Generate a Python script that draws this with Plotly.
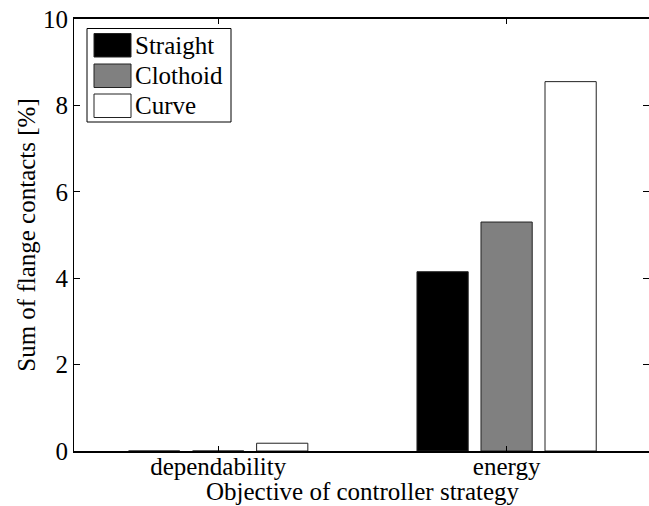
import plotly.graph_objects as go

# ---- data ----
categories = ["dependability", "energy"]
series_names = ["Straight", "Clothoid", "Curve"]
straight = [0.0, 4.15]
clothoid = [0.0, 5.30]
curve = [0.18, 8.55]
series_values = [straight, clothoid, curve]
series_colors = ["#000000", "#808080", "#ffffff"]
y_ticks = [0, 2, 4, 6, 8, 10]
x_title = "Objective of controller strategy"
y_title = "Sum of flange contacts [%]"

W, H = 649, 506
ML, MR, MT, MB = 74, 0, 19, 55
PW, PH = W - ML - MR, H - MT - MB
FONT = dict(family="Liberation Serif", size=25, color="black")

fig = go.Figure()
for name, vals, col in zip(series_names, series_values, series_colors):
    fig.add_trace(go.Bar(
        x=categories, y=vals, name=name,
        marker=dict(color=col, line=dict(color="#222222", width=1)),
        showlegend=False,
    ))

# right-side ticks without a right axis line
fig.add_trace(go.Scatter(x=[categories[0]], y=[None], yaxis="y2", showlegend=False,
                         hoverinfo="skip"))

px_per_cat = 288.4
fig.update_layout(
    width=W, height=H,
    margin=dict(l=ML, r=MR, t=MT, b=MB, pad=0),
    paper_bgcolor="white", plot_bgcolor="white",
    font=FONT,
    barmode="group", bargap=0.334, bargroupgap=0.2,
    xaxis=dict(
        type="category", range=[-0.5, -0.5 + PW / px_per_cat], automargin=False,
        showline=True, linecolor="black", linewidth=1.5, mirror="ticks",
        ticks="inside", ticklen=5, tickcolor="black", tickwidth=1,
        ticklabelstandoff=-8,
        showgrid=False, zeroline=False,
        tickfont=FONT,
    ),
    yaxis=dict(
        range=[0, 10], tickvals=y_ticks, automargin=False,
        showline=True, linecolor="black", linewidth=1, mirror=False,
        ticks="inside", ticklen=6, tickcolor="black", tickwidth=1,
        showgrid=False, zeroline=False,
        tickfont=FONT,
        title=dict(text=y_title, font=FONT, standoff=0),
    ),
    yaxis2=dict(
        overlaying="y", side="right", range=[0, 10], tickvals=y_ticks,
        showline=False, ticks="inside", ticklen=6, tickcolor="black", tickwidth=1,
        showticklabels=False, showgrid=False, zeroline=False,
    ),
)

def px_x(p):
    return (p - ML) / PW

def px_y(p):
    return (H - MB - p) / PH

# x-axis title (placed as annotation for exact position)
fig.add_annotation(xref="paper", yref="paper", x=px_x(362.5), y=px_y(491.5),
                   text=x_title, showarrow=False, xanchor="center", yanchor="middle",
                   font=FONT)

# custom MATLAB-style legend
fig.add_shape(type="rect", xref="paper", yref="paper",
              x0=px_x(87), x1=px_x(231), y0=px_y(28.5), y1=px_y(122),
              line=dict(color="black", width=1), fillcolor="white", layer="above")
row_top = [33.5, 64, 94]
for i, (name, col) in enumerate(zip(series_names, series_colors)):
    t = row_top[i]
    fig.add_shape(type="rect", xref="paper", yref="paper",
                  x0=px_x(94), x1=px_x(131), y0=px_y(t), y1=px_y(t + 23.5),
                  line=dict(color="#222222", width=1), fillcolor=col, layer="above")
    fig.add_annotation(xref="paper", yref="paper", x=px_x(133), y=px_y(t + 11.75),
                       text=name, showarrow=False, xanchor="left", yanchor="middle",
                       font=FONT)

fig.write_html("out.html")
